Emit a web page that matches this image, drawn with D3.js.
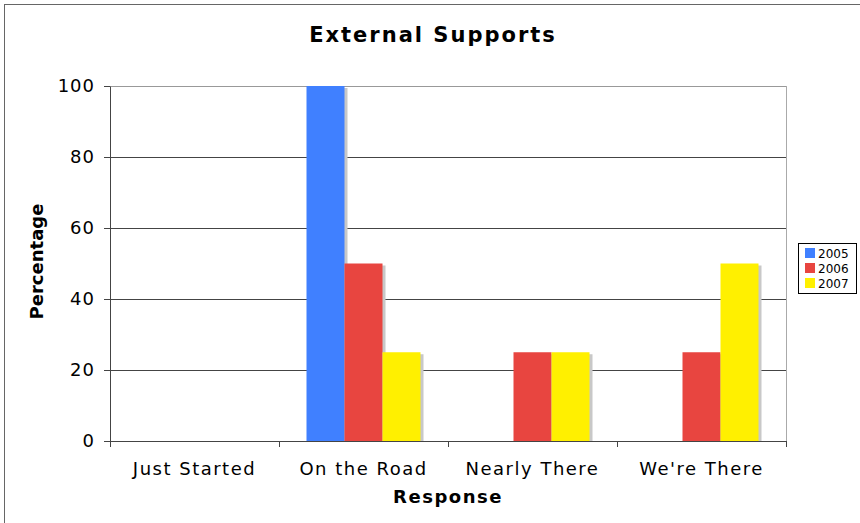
<!DOCTYPE html>
<html>
<head>
<meta charset="utf-8">
<script src="https://cdn.jsdelivr.net/npm/d3@7"></script>
<style>
  body { margin: 0; background: #fff; }
  text { font-family: "DejaVu Sans", Verdana, sans-serif; }
</style>
</head>
<body>
<svg id="chart"></svg>
<script>
// chart data
const categories = ["Just Started", "On the Road", "Nearly There", "We're There"];
const seriesNames = ["2005", "2006", "2007"];
const values2005 = [0, 100, 0, 0];
const values2006 = [0, 50, 25, 25];
const values2007 = [0, 25, 25, 50];
const yTicks = [0, 20, 40, 60, 80, 100];
const colors = ["#4080ff", "#e84540", "#fff000"];

const W = 860, H = 523;
const margin = { top: 86, right: 74, bottom: 82, left: 110 };
const width = W - margin.left - margin.right;
const height = H - margin.top - margin.bottom;

const root = d3.select("#chart").attr("width", W).attr("height", H);

// outer frame (right and bottom edges fall outside the picture)
root.append("rect")
  .attr("x", 4.5).attr("y", 4.5)
  .attr("width", W + 10).attr("height", H + 10)
  .attr("fill", "none")
  .attr("stroke", "#666");

root.append("text")
  .attr("x", 433).attr("y", 42)
  .attr("text-anchor", "middle")
  .style("font-size", "21px")
  .style("font-weight", "bold")
  .style("letter-spacing", "2px")
  .text("External Supports");

const svg = root.append("g")
  .attr("transform", `translate(${margin.left}, ${margin.top})`);

const x0 = d3.scaleBand().domain(categories).range([0, width]).paddingInner(0).paddingOuter(0);
const x1 = d3.scaleBand().domain(seriesNames).range([27.5, x0.bandwidth() - 27.5]);
const y = d3.scaleLinear().domain([0, 100]).range([height, 0]);

// grid lines
svg.selectAll(".grid")
  .data(yTicks.filter(d => d > 0))
  .enter()
  .append("line")
  .attr("x1", 0).attr("x2", width)
  .attr("y1", d => Math.round(y(d)) + 0.5)
  .attr("y2", d => Math.round(y(d)) + 0.5)
  .attr("stroke", d => d === 100 ? "#999" : "#444")
  .attr("stroke-width", 1.2);

// right border of plot
svg.append("line")
  .attr("x1", width + 0.5).attr("x2", width + 0.5)
  .attr("y1", 0).attr("y2", height)
  .attr("stroke", "#aaa");

const series = [values2005, values2006, values2007];
const barData = [];
categories.forEach((c, i) => {
  seriesNames.forEach((s, j) => {
    barData.push({ cat: c, name: s, value: series[j][i], color: colors[j] });
  });
});

// bar shadows
svg.selectAll(".shadow")
  .data(barData.filter(d => d.value > 0))
  .enter()
  .append("rect")
  .attr("x", d => x0(d.cat) + x1(d.name) + 3)
  .attr("y", d => y(d.value) + 2)
  .attr("width", x1.bandwidth())
  .attr("height", d => height - y(d.value) - 2)
  .attr("fill", "#c8c8c8");

svg.selectAll(".bar")
  .data(barData.filter(d => d.value > 0))
  .enter()
  .append("rect")
  .attr("x", d => x0(d.cat) + x1(d.name))
  .attr("y", d => y(d.value))
  .attr("width", x1.bandwidth())
  .attr("height", d => height - y(d.value))
  .attr("fill", d => d.color);

// axes
const yAxis = svg.append("g")
  .call(d3.axisLeft(y).tickValues(yTicks).tickSize(6).tickSizeOuter(0));
yAxis.select(".domain").attr("stroke", "#444");
yAxis.selectAll(".tick line").attr("stroke", "#444");
yAxis.selectAll("text")
  .style("font-size", "18px")
  .style("letter-spacing", "1px")
  .attr("fill", "#000")
  .attr("x", -15);

const xAxis = svg.append("g")
  .attr("transform", `translate(0, ${height})`)
  .call(d3.axisBottom(x0).tickSize(0).tickSizeOuter(0));
xAxis.select(".domain").attr("stroke", "#444");
xAxis.selectAll("text")
  .style("font-size", "18px")
  .style("letter-spacing", "1.5px")
  .attr("fill", "#000")
  .attr("y", 34)
  .attr("dy", 0);

// category boundary ticks
svg.selectAll(".xtick")
  .data(d3.range(categories.length + 1))
  .enter()
  .append("line")
  .attr("x1", d => Math.round(d * x0.step()) + 0.5)
  .attr("x2", d => Math.round(d * x0.step()) + 0.5)
  .attr("y1", height).attr("y2", height + 6)
  .attr("stroke", "#444");

// axis titles
svg.append("text")
  .attr("text-anchor", "middle")
  .attr("x", width / 2)
  .attr("y", height + 62)
  .style("font-size", "18px")
  .style("font-weight", "bold")
  .style("letter-spacing", "1.5px")
  .text("Response");

svg.append("text")
  .attr("text-anchor", "middle")
  .attr("transform", "rotate(-90)")
  .attr("x", -height / 2 + 2)
  .attr("y", -67)
  .style("font-size", "18px")
  .style("font-weight", "bold")
  .text("Percentage");

// legend
const legend = root.append("g").attr("transform", "translate(798, 243)");
legend.append("rect")
  .attr("x", 0.5).attr("y", 0.5)
  .attr("width", 58).attr("height", 50)
  .attr("fill", "#fff")
  .attr("stroke", "#000");
seriesNames.forEach((s, i) => {
  legend.append("rect")
    .attr("x", 7).attr("y", 5 + i * 15)
    .attr("width", 10).attr("height", 10)
    .attr("fill", colors[i]);
  legend.append("text")
    .attr("x", 20).attr("y", 15 + i * 15)
    .style("font-size", "12px")
    .text(s);
});
</script>
</body>
</html>
